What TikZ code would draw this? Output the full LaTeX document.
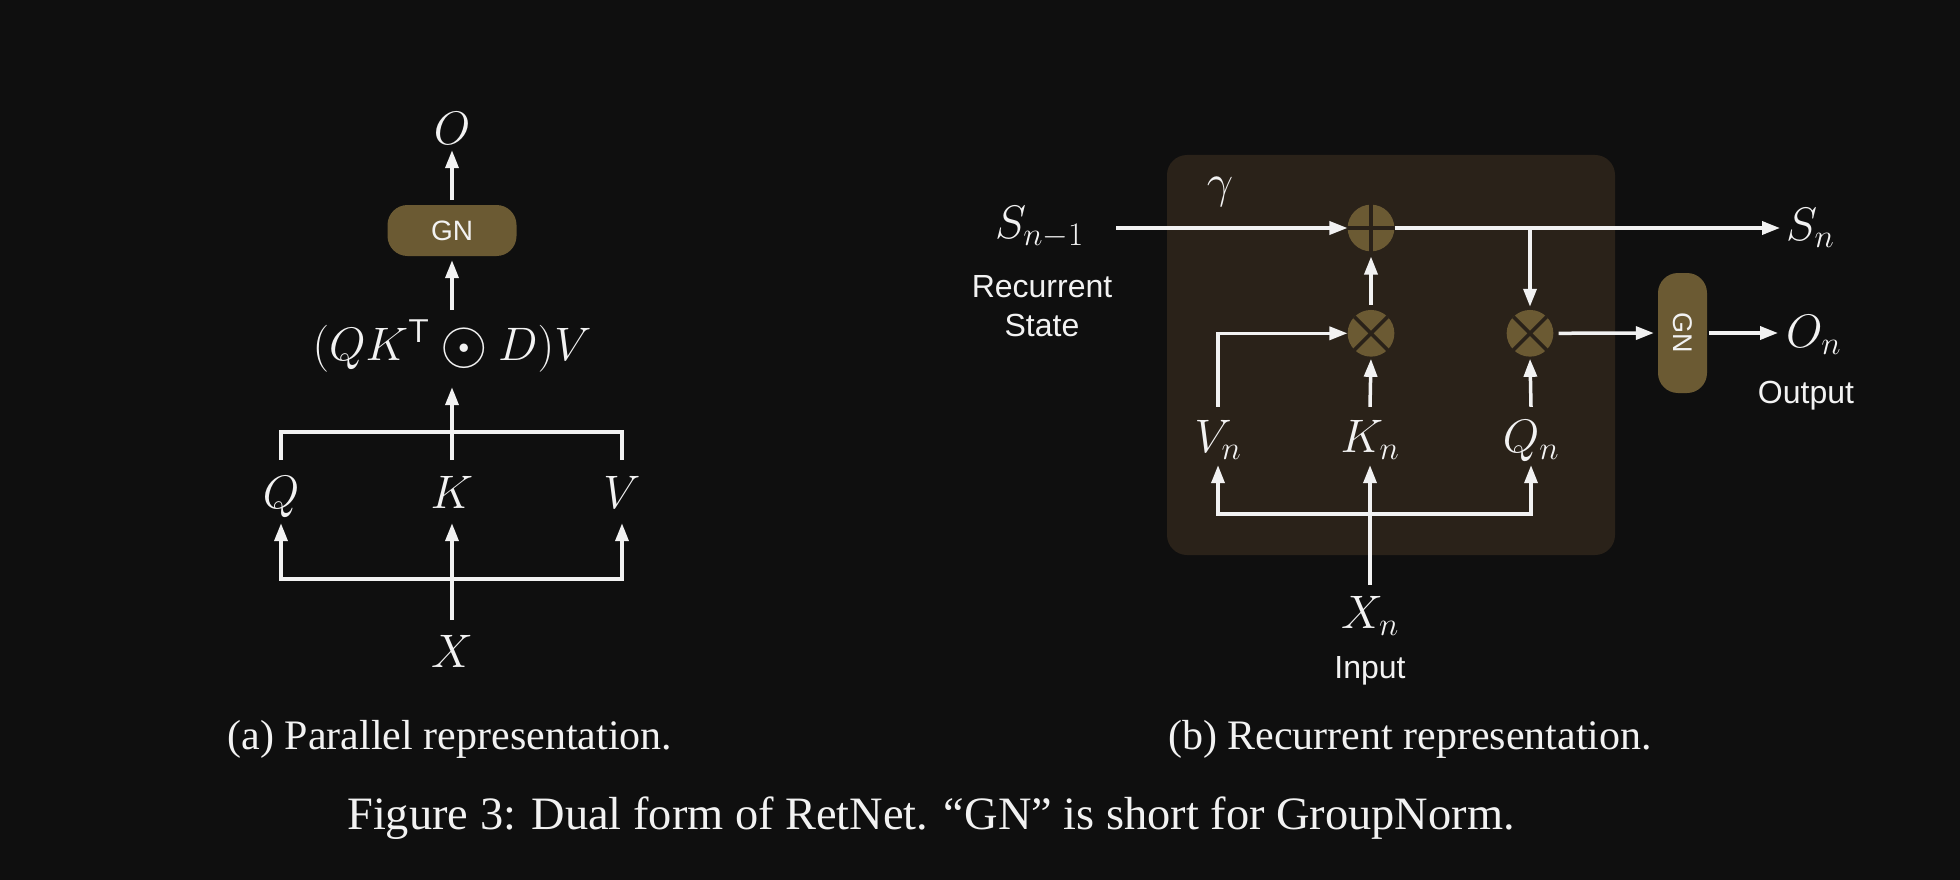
\RequirePackage{fix-cm}
\documentclass[tikz,border=0pt]{standalone}
\usepackage[no-math]{fontspec}
\setmainfont{Liberation Serif}
\newfontfamily\arialf{Liberation Sans}
\usetikzlibrary{arrows.meta}
\definecolor{bgc}{HTML}{0F0F0F}
\definecolor{cellc}{HTML}{2A2219}
\definecolor{gold}{HTML}{6B5A33}
\definecolor{ink}{HTML}{F2F2F2}
\newcommand\mfont{\fontsize{47}{50}\selectfont}
\newcommand\myodot{\mathbin{\vcenter{\hbox{\scalebox{1.3}{$\odot$}}}}}
\begin{document}
\begin{tikzpicture}[x=1pt,y=-1pt,
  wire/.style={draw=ink,line width=3.5pt},
  arr/.style={wire,-{Triangle[length=18pt,width=13pt]}},
  mth/.style={text=ink,inner sep=0pt,font=\mfont,anchor=base},
  sans/.style={text=ink,inner sep=0pt,anchor=base,font=\arialf\fontsize{32}{38}\selectfont},
  capt/.style={text=ink,inner sep=0pt,anchor=base,font=\fontsize{42}{48}\selectfont},
  gnbox/.style={fill=gold,rounded corners=20pt,text=ink,inner sep=0pt,font=\arialf\fontsize{28}{32}\selectfont},
  opcirc/.style={circle,fill=gold,minimum size=46.7pt,inner sep=0pt},
  opline/.style={draw=cellc,line width=3.5pt},
  cellbox/.style={fill=cellc,rounded corners=20pt,inner sep=0pt}
]
\useasboundingbox (0,0) rectangle (1960,880);
\fill[bgc] (0,0) rectangle (1960,880);

% ---------- (a) parallel ----------
\node[mth, text height=33pt, text depth=5pt] (O) at (452,145) {$O$};
\node[gnbox, minimum width=129pt, minimum height=51pt] (gn1) at (452,230.5) {GN};
\node[mth, text height=50pt, text depth=27pt] (f) at (452,360) {$(QK^{\mathsf{T}}\myodot D)V$};
\node[mth, text height=48pt, text depth=15pt] (Q) at (281,508) {$Q$};
\node[mth, text height=48pt, text depth=15pt] (K) at (452,508) {$K$};
\node[mth, text height=48pt, text depth=15pt] (V) at (622,508) {$V$};
\node[mth, text height=47pt, text depth=2pt] (X) at (452,667) {$X$};
\coordinate (tb) at (452,432);
\coordinate (bb) at (452,579);

\draw[wire] (Q.north) -- (Q.north |- tb) -- (V.north |- tb) -- (V.north);
\draw[arr] (K.north) -- (f.south);
\draw[arr, shorten >=4pt] (f.north) -- (gn1.south);
\draw[arr, shorten <=5pt] (gn1.north) -- (O.south);
\draw[arr] (bb) -| (Q.south);
\draw[arr] (bb) -| (V.south);
\draw[arr] (X.north) -- (K.south);

\node[capt] (capa) at (450,749) {(a) Parallel representation.};

% ---------- (b) recurrent ----------
\node[cellbox, minimum width=448pt, minimum height=400pt] (cell) at (1391,355) {};

\node[mth, anchor=base east] (Sp) at (1084,238) {$S_{n-1}$};
\node[sans] (rs1) at (1042,297) {Recurrent};
\node[sans] (rs2) at (1042,336) {State};
\node[mth] (gam) at (1220,197) {$\gamma$};

\node[opcirc] (plus) at (1371,228) {};
\draw[opline] (plus.north) -- (plus.south) (plus.west) -- (plus.east);
\node[opcirc] (t1) at (1371,333.3) {};
\draw[opline] (t1.north west) -- (t1.south east) (t1.north east) -- (t1.south west);
\node[opcirc] (t2) at (1530,333.3) {};
\draw[opline] (t2.north west) -- (t2.south east) (t2.north east) -- (t2.south west);

\node[mth, text height=45pt, text depth=13pt] (Vn) at (1218,452) {$V_n$};
\node[mth, text height=45pt, text depth=13pt] (Kn) at (1370,452) {$K_n$};
\node[mth, text height=45pt, text depth=13pt] (Qn) at (1531,452) {$Q_n$};
\node[mth, text height=43pt, text depth=2pt] (Xn) at (1370,628) {$X_n$};
\node[sans] (inp) at (1370,678) {Input};

\node[gnbox, minimum width=49pt, minimum height=120pt] (gn2) at (1682.5,333) {\rotatebox{-90}{\fontsize{27}{30}\selectfont GN}};
\node[mth, anchor=base west] (Sn) at (1786,240) {$S_n$};
\node[mth, anchor=base west] (On) at (1786,347) {$O_n$};
\node[sans] (outp) at (1806,403) {Output};

\coordinate (br) at (1530,228);
\coordinate (bb2) at (1370,514);

\draw[arr, shorten <=32pt] (Sp.east |- plus.west) -- (plus.west);
\draw[arr, shorten >=6pt] (plus.east) -- (Sn.west |- plus.east);
\draw[arr, shorten >=3pt] (br) -- (t2.north);
\draw[arr, shorten <=5pt, shorten >=5pt] (t1.north) -- (plus.south);
\draw[arr] (Vn.north) |- (t1.west);
\draw[arr, shorten >=2pt] (Kn.north) -- (t1.south);
\draw[arr, shorten >=2pt] (Qn.north) -- (t2.south);
\draw[arr] (bb2) -| (Vn.south);
\draw[arr] (bb2) -| (Qn.south);
\draw[arr] (Xn.north) -- (Kn.south);
\draw[arr, shorten <=5pt, shorten >=4pt] (t2.east) -- (gn2.west);
\draw[arr, shorten <=2pt, shorten >=8pt] (gn2.east) -- (On.west |- gn2.east);

\node[capt] (capb) at (1410,749) {(b) Recurrent representation.};
\node[capt, font=\fontsize{46.4}{52}\selectfont] (capf) at (931,829) {Figure 3: Dual form of RetNet. ``GN'' is short for GroupNorm.};
\end{tikzpicture}
\end{document}
